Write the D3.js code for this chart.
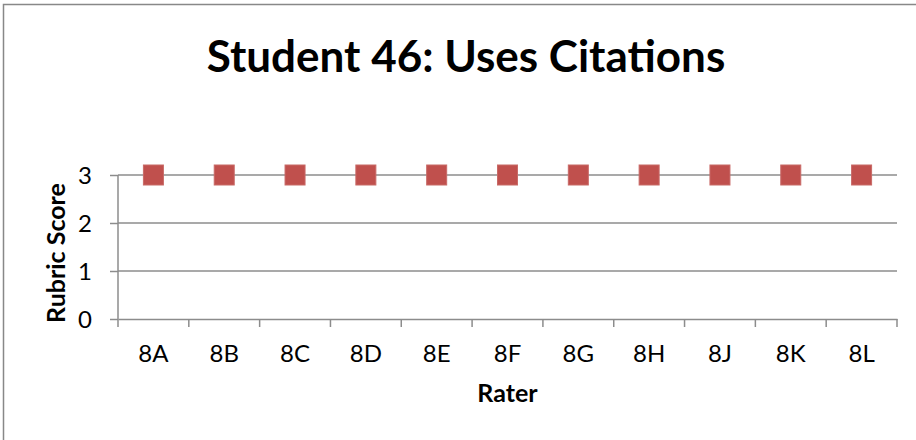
<!DOCTYPE html>
<html><head><meta charset="utf-8">
<script src="https://cdn.jsdelivr.net/npm/d3@7"></script>
<style>body{margin:0;background:#fff}svg{display:block}text{font-family:Lato,"Open Sans",sans-serif}</style>
</head><body>
<script>
const categories = ["8A","8B","8C","8D","8E","8F","8G","8H","8J","8K","8L"];
const scores = [3,3,3,3,3,3,3,3,3,3,3];
const yTicks = [0,1,2,3];
const title = "Student 46: Uses Citations";
const xTitle = "Rater";
const yTitle = "Rubric Score";

const W = 916, H = 440;
const svg = d3.select("body").append("svg").attr("width", W).attr("height", H);
svg.append("rect").attr("width", W).attr("height", H).attr("fill", "#fff");
// chart frame (extends beyond viewport on right/bottom)
svg.append("rect").attr("x", 3.5).attr("y", 4.5).attr("width", W + 10).attr("height", H + 10)
  .attr("fill", "none").attr("stroke", "#888").attr("stroke-width", 1.5);

const m = {left: 118, right: 897, top: 175, bottom: 319};
const x = d3.scaleBand().domain(categories).range([m.left, m.right]);
const y = d3.scaleLinear().domain([0, 3]).range([m.bottom, m.top]);

// gridlines
svg.append("g").selectAll("line").data(yTicks.filter(d => d > 0)).join("line")
  .attr("x1", m.left).attr("x2", m.right).attr("y1", d => y(d)).attr("y2", d => y(d))
  .attr("stroke", "#8c8c8c").attr("stroke-width", 1.5);

// y axis
const ya = svg.append("g").attr("transform", `translate(${m.left},0)`)
  .call(d3.axisLeft(y).tickValues(yTicks).tickSize(8).tickPadding(18).tickFormat(d3.format("d")));
ya.select(".domain").attr("stroke", "#8c8c8c").attr("stroke-width", 1.5).attr("d", `M0,${m.top}V${m.bottom}`);
ya.selectAll(".tick line").attr("stroke", "#8c8c8c").attr("stroke-width", 1.5);
ya.selectAll(".tick text").attr("font-size", 24).attr("fill", "#000").attr("font-family", "Lato").attr("dy", "0.36em");

// x axis
const xa = svg.append("g").attr("transform", `translate(0,${m.bottom})`)
  .call(d3.axisBottom(x).tickSize(0).tickPadding(0));
xa.select(".domain").attr("stroke", "#8c8c8c").attr("stroke-width", 1.5);
xa.selectAll(".tick text").attr("font-size", 24).attr("fill", "#000").attr("font-family", "Lato")
  .attr("y", 43).attr("dy", null);
// boundary ticks
const bounds = categories.map(c => x(c)).concat([m.right]);
xa.append("g").selectAll("line").data(bounds).join("line")
  .attr("x1", d => d).attr("x2", d => d).attr("y1", 0).attr("y2", 8)
  .attr("stroke", "#8c8c8c").attr("stroke-width", 1.5);

// markers
const s = 20;
svg.append("g").selectAll("rect").data(categories).join("rect")
  .attr("x", (c) => x(c) + x.bandwidth() / 2 - s / 2)
  .attr("y", (c, i) => y(scores[i]) - s / 2)
  .attr("width", s).attr("height", s)
  .attr("fill", "#C0504D").attr("stroke", "#c86a67").attr("stroke-width", 1);

// titles
svg.append("text").attr("x", 466).attr("y", 72).attr("text-anchor", "middle")
  .attr("font-size", 44).attr("font-weight", "bold").attr("fill", "#000").text(title);
svg.append("text").attr("x", (m.left + m.right) / 2).attr("y", 402).attr("text-anchor", "middle")
  .attr("font-size", 25).attr("font-weight", "bold").attr("fill", "#000").text(xTitle);
svg.append("text").attr("transform", `translate(65,253) rotate(-90)`)
  .attr("text-anchor", "middle").attr("font-size", 25).attr("font-weight", "bold").attr("fill", "#000").text(yTitle);
</script>
</body></html>
